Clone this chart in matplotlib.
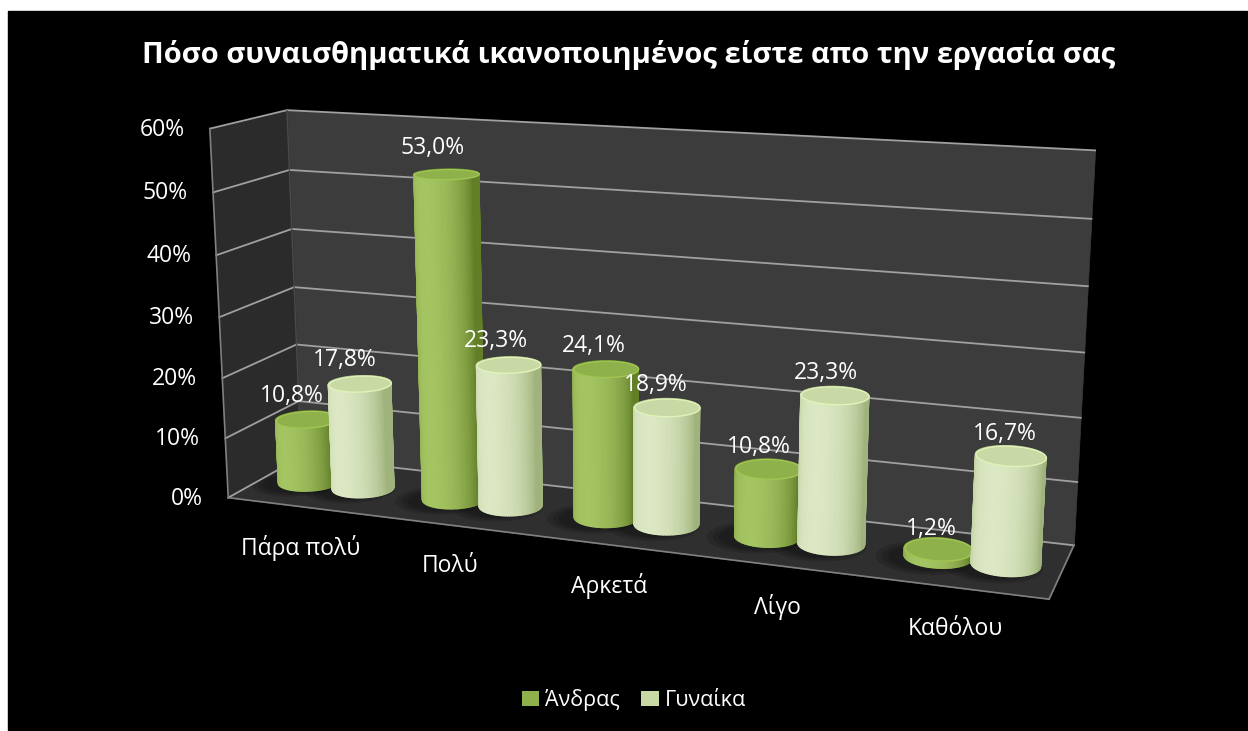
import numpy as np
import matplotlib
matplotlib.use('Agg')
import matplotlib.pyplot as plt
from matplotlib.patches import Rectangle, Patch
from matplotlib.transforms import offset_copy
from mpl_toolkits.mplot3d.art3d import Poly3DCollection

plt.rcParams['font.family'] = ['Open Sans', 'DejaVu Sans']

# dedomena
title = 'Πόσο συναισθηματικά ικανοποιημένος είστε απο την εργασία σας'
categories = ['Πάρα πολύ', 'Πολύ', 'Αρκετά', 'Λίγο', 'Καθόλου']
series_names = ['Άνδρας', 'Γυναίκα']
andras = [10.8, 53.0, 24.1, 10.8, 1.2]
gynaika = [17.8, 23.3, 18.9, 23.3, 16.7]
ticks = [0, 10, 20, 30, 40, 50, 60]
tick_labels = ['0%', '10%', '20%', '30%', '40%', '50%', '60%']

# xromata (skoura akri, fotini mesi, kapaki)
colors = [('#627f28', '#a5c462', '#8fb14b'),
          ('#a0b37c', '#dce8c3', '#c9d9a5')]
legend_colors = ['#8fb14b', '#c9d9a5']

W, H = 1248, 731
S = W  # tetragono axes, oso olo to platos gia na min kovetai tipota

# kamera (rythmismeni me to mati); zoom*S kai focal/zoom statheroi
ELEV, AZIM = 13.62, -69.92
ZOOM = 1.2756 * 731 / S
FOCAL = 0.5116 * 731 / S
D = 0.9037   # vathos
HB = 2.2741  # ypsos koutiou
R = 0.19     # aktina kylindrou
ZMAX = 60

fig = plt.figure(figsize=(W / 100, H / 100), dpi=100, facecolor='white')
fig.patches.append(Rectangle((8 / W, 0), (W - 9) / W, (H - 11) / H,
                             transform=fig.transFigure, color='black', zorder=-10))

cx, cy = 619.3, 351.1
ax = fig.add_axes([(cx - S / 2) / W, (H - cy - S / 2) / H, S / W, S / H],
                  projection='3d', computed_zorder=False)
n_cat = len(categories)


def add_poly(verts, fc, ec=None, lw=0.5, z=0, alpha=None):
    p = Poly3DCollection(verts, facecolors=fc, edgecolors=fc if ec is None else ec,
                         linewidths=lw, alpha=alpha)
    p.set_zorder(z)
    ax.add_collection3d(p, autolim=False)
    p.set_clip_on(False)
    return p


def add_line(xs, ys, zs, **kw):
    for ln in ax.plot(xs, ys, zs, **kw):
        ln.set_clip_on(False)


# toixoi
back = [(0, D, 0), (n_cat, D, 0), (n_cat, D, ZMAX), (0, D, ZMAX)]
left = [(0, 0, 0), (0, D, 0), (0, D, ZMAX), (0, 0, ZMAX)]
floor = [(0, 0, 0), (n_cat, 0, 0), (n_cat, D, 0), (0, D, 0)]
add_poly([back], '#3c3c3c')
add_poly([left], '#2b2b2b')
add_poly([floor], '#2f2f2f')

grid_c = '#a0a0a0'
for t in ticks:
    add_line([0, n_cat], [D, D], [t, t], color=grid_c, lw=1.3, zorder=1)
    add_line([0, 0], [0, D], [t, t], color=grid_c, lw=1.3, zorder=1)
add_line([0, 0], [0, 0], [0, ZMAX], color='#808080', lw=1.2, zorder=1)
add_line([0, 0], [D, D], [0, ZMAX], color='#4a4a4a', lw=1.0, zorder=1)
add_line([0, n_cat], [0, 0], [0, 0], color='#808080', lw=1.2, zorder=1)
add_line([n_cat, n_cat], [0, D], [0, 0], color='#808080', lw=1.2, zorder=1)


def cylinder(xc, yc, h, cols, z):
    dark, light, top = [np.array(matplotlib.colors.to_rgb(c)) for c in cols]
    n = 90
    th = np.linspace(0, 2 * np.pi, n + 1)
    # skia sto patoma
    for k, sc in enumerate([1.45, 1.25, 1.08]):
        sh = [(xc - 0.07 + sc * R * np.cos(a), yc - 0.04 + sc * R * np.sin(a), 0) for a in th]
        add_poly([sh], 'black', lw=0, z=0.5 + k * 0.01, alpha=0.14)
    polys, fc = [], []
    la = np.deg2rad(-105)
    for a0, a1 in zip(th[:-1], th[1:]):
        p0 = (xc + R * np.cos(a0), yc + R * np.sin(a0))
        p1 = (xc + R * np.cos(a1), yc + R * np.sin(a1))
        polys.append([(p0[0], p0[1], 0), (p1[0], p1[1], 0),
                      (p1[0], p1[1], h), (p0[0], p0[1], h)])
        d = max(np.cos((a0 + a1) / 2 - la), 0) ** 0.8
        fc.append(tuple(dark + (light - dark) * d))
    add_poly(polys, fc, lw=1.0, z=z)
    ring = [(xc + R * np.cos(a), yc + R * np.sin(a), h) for a in th]
    add_poly([ring], [tuple(top)], ec=[tuple(np.minimum(top * 1.12, 1))], lw=1.0, z=z + 0.5)


zo = 2
positions = []
for i in range(n_cat):
    for j, vals in enumerate([andras, gynaika]):
        xc = i + 0.5 + (j - 0.5) * 2 * R
        cylinder(xc, D / 2, vals[i], colors[j], zo)
        positions.append((xc, vals[i]))
        zo += 1

# oria kai kamera sto telos
ax.set_xlim(0, n_cat)
ax.set_ylim(0, D)
ax.set_zlim(0, ZMAX)
ax.set_proj_type('persp', focal_length=FOCAL)
ax.view_init(elev=ELEV, azim=AZIM)
ax.set_box_aspect((n_cat, D, HB), zoom=ZOOM)
ax.set_axis_off()
ax.patch.set_alpha(0)

M = ax.get_proj()


def proj(x, y, z):
    v = M @ np.array([x, y, z, 1.0])
    return v[0] / v[3], v[1] / v[3]


def label(x, y, z, s, dx=0, dy=0, **kw):
    px, py = proj(x, y, z)
    tr = offset_copy(ax.transData, fig=fig, x=dx, y=dy, units='dots')
    ax.text2D(px, py, s, transform=tr, color='white', zorder=100, **kw)


for xc, v in positions:
    label(xc, D / 2 - R, v, f'{v:.1f}%'.replace('.', ','), dy=31,
          fontsize=16.5, ha='center', va='center')

for t, lab in zip(ticks, tick_labels):
    label(0, 0, t, lab, dx=-25, dy=-1, fontsize=16.5, ha='right', va='center')

for i, lab in enumerate(categories):
    label(i + 0.5, 0, 0, lab, dx=0, dy=-41, fontsize=16.5, ha='center', va='center')

fig.text(0.504, 1 - 55 / H, title, color='white', fontsize=21, fontweight='bold',
         ha='center', va='center')

handles = [Patch(facecolor=c, edgecolor='none') for c in legend_colors]
fig.legend(handles, series_names, loc='center', bbox_to_anchor=(0.508, 1 - 700 / H),
           ncol=2, frameon=False, fontsize=15.5, labelcolor='white',
           handlelength=0.8, handleheight=0.7, handletextpad=0.3, columnspacing=1.0)

fig.savefig('out.png', dpi=100, facecolor=fig.get_facecolor())
